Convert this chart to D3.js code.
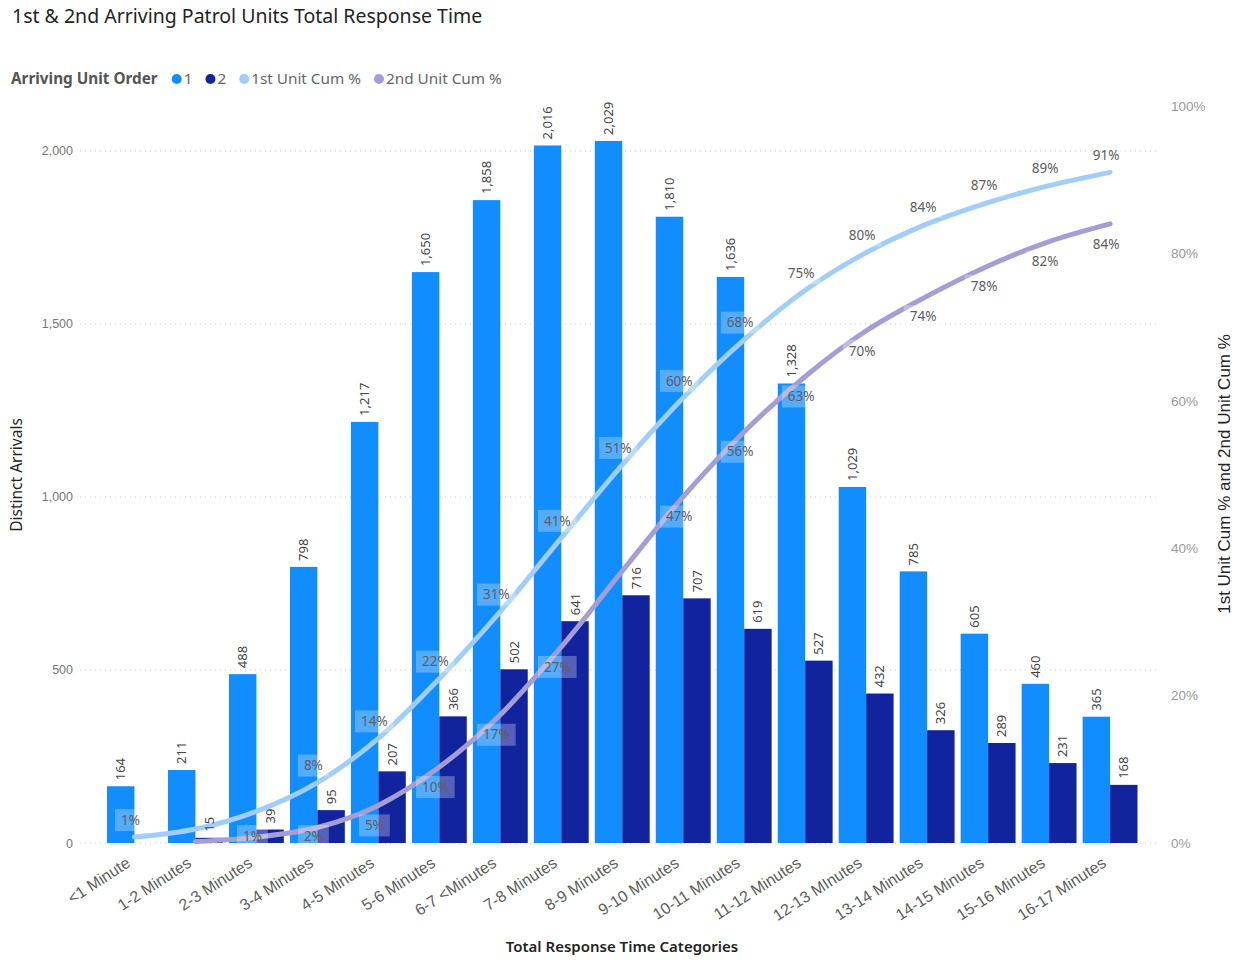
<!DOCTYPE html>
<html lang="en">
<head>
    <meta charset="utf-8">
    <title>1st & 2nd Arriving Patrol Units Total Response Time</title>
    <style>
        body {
            margin: 0;
            background: #fff;
            font-family: "Noto Sans", "Open Sans", sans-serif;
        }
    </style>
</head>
<body>
<svg class="chart"></svg>
<script src="https://cdnjs.cloudflare.com/ajax/libs/d3/7.8.5/d3.min.js"></script>
<script>

  const categories = ["<1 Minute", "1-2 Minutes", "2-3 Minutes", "3-4 Minutes", "4-5 Minutes",
    "5-6 Minutes", "6-7 <Minutes", "7-8 Minutes", "8-9 Minutes", "9-10 Minutes", "10-11 Minutes",
    "11-12 Minutes", "12-13 MInutes", "13-14 Minutes", "14-15 Minutes", "15-16 Minutes", "16-17 Minutes"];

  const unit1 = [164, 211, 488, 798, 1217, 1650, 1858, 2016, 2029, 1810, 1636, 1328, 1029, 785, 605, 460, 365];
  const unit2 = [null, 15, 39, 95, 207, 366, 502, 641, 716, 707, 619, 527, 432, 326, 289, 231, 168];

  // cumulative %, estimated to one decimal from the line positions / labels
  const cum1 = [0.8, 1.9, 4.3, 8.2, 14.2, 22.3, 31.4, 41.4, 51.3, 60.4, 68.3, 75.0, 80.1, 84.0, 86.9, 89.2, 91.0];
  const cum2 = [null, 0.2, 0.8, 2.1, 5.1, 10.3, 17.4, 26.6, 36.9, 47.0, 55.8, 63.3, 69.5, 74.2, 78.3, 81.6, 84.0];

  // labels that the original hides (overlap)
  const cum1Hidden = [1, 2];
  const cum2Hidden = [1, 8];

  const leftTicks = [0, 500, 1000, 1500, 2000];
  const rightTicks = [0, 20, 40, 60, 80, 100];

  const seriesNames = ["1", "2", "1st Unit Cum %", "2nd Unit Cum %"];
  const colors = ["#118DFF", "#12239E", "#A0CDF9", "#A59ED6"];

  const width = 1235, height = 963;
  const fmt = d3.format(",");
  const pct = d3.format(".0f");

  const svg = d3.select(".chart")
    .attr("width", width)
    .attr("height", height);

  const x = d3.scaleBand()
    .domain(categories)
    .range([107, 1137.5])
    .paddingInner(0.1)
    .paddingOuter(0);

  const xSub = d3.scaleBand()
    .domain([0, 1])
    .range([0, x.bandwidth()]);

  const y = d3.scaleLinear().domain([0, 2130]).range([843, 106]);
  const yR = d3.scaleLinear().domain([0, 100]).range([843, 106]);

  // title
  svg.append("text")
    .attr("x", 12).attr("y", 23)
    .attr("font-size", 19.5)
    .attr("fill", "#252423")
    .text("1st & 2nd Arriving Patrol Units Total Response Time");

  // legend
  const legend = svg.append("g").attr("transform", "translate(11,79)");
  const lt = legend.append("text")
    .attr("font-size", 15.3).attr("font-weight", "bold").attr("fill", "#555")
    .attr("dy", "0.35em")
    .text("Arriving Unit Order");
  let lx = lt.node().getComputedTextLength() + 19;
  seriesNames.forEach((name, i) => {
    legend.append("circle").attr("cx", lx).attr("cy", 0).attr("r", 5).attr("fill", colors[i]);
    const t = legend.append("text")
      .attr("x", lx + 7).attr("dy", "0.35em")
      .attr("font-size", 15.3).attr("fill", "#666")
      .text(name);
    lx += 7 + t.node().getComputedTextLength() + 18;
  });

  // gridlines
  svg.append("g").selectAll("line")
    .data(leftTicks)
    .join("line")
    .attr("x1", 80).attr("x2", 1160)
    .attr("y1", d => y(d)).attr("y2", d => y(d))
    .attr("stroke", "#C8C8C8")
    .attr("stroke-dasharray", "1,4");

  // left axis
  const yAxis = d3.axisLeft(y).tickValues(leftTicks).tickFormat(fmt).tickSize(0).tickPadding(0);
  const gy = svg.append("g").attr("transform", "translate(73,0)").call(yAxis);
  gy.select(".domain").remove();
  gy.selectAll("text").attr("font-size", 12.5).attr("fill", "#777").attr("font-family", "inherit");

  // right axis
  const yRAxis = d3.axisRight(yR).tickValues(rightTicks).tickFormat(d => d + "%").tickSize(0).tickPadding(0);
  const gyr = svg.append("g").attr("transform", "translate(1171,0)").call(yRAxis);
  gyr.select(".domain").remove();
  gyr.selectAll("text").attr("font-size", 13.5).attr("fill", "#999").attr("font-family", "inherit");

  // x axis
  const xAxis = d3.axisBottom(x).tickSize(0).tickPadding(0);
  const gx = svg.append("g").attr("transform", "translate(0,843)").call(xAxis);
  gx.select(".domain").remove();
  gx.selectAll("text")
    .attr("font-size", 16).attr("fill", "#605E5C").attr("font-family", "inherit")
    .attr("text-anchor", "end")
    .attr("y", 0).attr("dy", "0.35em")
    .attr("transform", "translate(-6,18) rotate(-33)");

  // axis titles
  svg.append("text")
    .attr("transform", "translate(22,475) rotate(-90)")
    .attr("text-anchor", "middle")
    .attr("font-size", 15.5).attr("fill", "#252423")
    .text("Distinct Arrivals");

  svg.append("text")
    .attr("transform", "translate(1230,474) rotate(-90)")
    .attr("text-anchor", "middle")
    .attr("font-size", 17).attr("fill", "#252423")
    .attr("font-family", "'Liberation Sans Narrow', 'Arial Narrow', sans-serif")
    .text("1st Unit Cum % and 2nd Unit Cum %");

  svg.append("text")
    .attr("x", 622).attr("y", 952)
    .attr("text-anchor", "middle")
    .attr("font-size", 15).attr("font-weight", 600).attr("fill", "#252423")
    .text("Total Response Time Categories");

  // bars
  const barData = [];
  categories.forEach((c, i) => {
    barData.push({cat: c, s: 0, v: unit1[i]});
    if (unit2[i] != null) barData.push({cat: c, s: 1, v: unit2[i]});
  });

  svg.append("g").selectAll("rect")
    .data(barData)
    .join("rect")
    .attr("x", d => x(d.cat) + xSub(d.s))
    .attr("y", d => y(d.v))
    .attr("width", xSub.bandwidth())
    .attr("height", d => y(0) - y(d.v))
    .attr("fill", d => colors[d.s]);

  // lines
  const line = (arr) => d3.line()
    .defined((d, i) => arr[i] != null)
    .x((d, i) => x(categories[i]) + x.bandwidth() / 2)
    .y((d, i) => yR(arr[i]))
    .curve(d3.curveMonotoneX)(arr);

  [cum1, cum2].forEach((arr, k) => {
    svg.append("path")
      .attr("d", line(arr))
      .attr("fill", "none")
      .attr("stroke", colors[k + 2])
      .attr("stroke-width", 5)
      .attr("stroke-linecap", "round");
  });

  // bar value labels
  svg.append("g").selectAll("text")
    .data(barData)
    .join("text")
    .attr("transform", d => `translate(${x(d.cat) + xSub(d.s) + xSub.bandwidth() / 2},${y(d.v) - 6}) rotate(-90)`)
    .attr("dy", "0.35em")
    .attr("font-size", 13)
    .attr("fill", "#444")
    .text(d => fmt(d.v));

  // cumulative % labels
  function cumLabels(arr, hidden, offset) {
    const g = svg.append("g");
    arr.forEach((v, i) => {
      if (v == null || hidden.includes(i)) return;
      const cx = x(categories[i]) + x.bandwidth() / 2 - 4;
      const cy = Math.min(yR(v) + offset, y(0) - 7);
      const lg = g.append("g").attr("transform", `translate(${cx},${cy})`);
      const rect = lg.append("rect").attr("fill", "rgba(255,255,255,0.28)");
      const t = lg.append("text")
        .attr("text-anchor", "middle").attr("dy", "0.35em")
        .attr("font-size", 13.5).attr("fill", "#605E5C")
        .text(pct(v) + "%");
      const w = t.node().getComputedTextLength() + 12;
      rect.attr("x", -w / 2).attr("y", -11).attr("width", w).attr("height", 22);
    });
  }
  cumLabels(cum1, cum1Hidden, -17);
  cumLabels(cum2, cum2Hidden, 20);

</script>
</body>
</html>
